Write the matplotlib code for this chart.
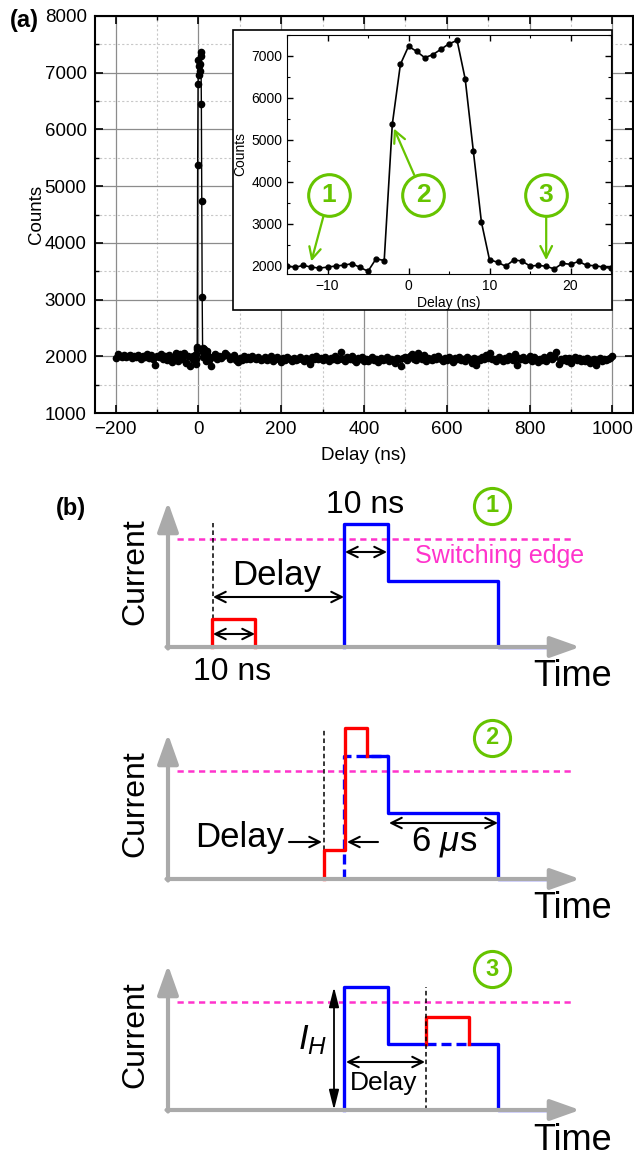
import numpy as np
import matplotlib.pyplot as plt
from matplotlib.patches import Rectangle
from matplotlib.ticker import MultipleLocator

plt.rcParams['font.family'] = 'Liberation Sans'
plt.rcParams['mathtext.fontset'] = 'custom'
plt.rcParams['mathtext.rm'] = 'Liberation Sans'
plt.rcParams['mathtext.it'] = 'Liberation Sans:italic'

# DATA

# inset: 1 ns steps around the peak
inset_delay = np.arange(-15, 26)
inset_counts = [1990, 1960, 2005, 1965, 1940, 1965, 1990, 2010, 2045, 1960, 1865,
                2165, 2120, 5370, 6800,
                7230, 7110, 6960, 7030, 7160, 7290, 7370, 6450, 4740, 3040,
                2140, 2080, 1985, 2135, 2110, 1990, 2005, 1985, 1920, 2055, 2030,
                2100, 2005, 2000, 1965, 1935]

# long scan baseline, 5 ns steps (-200..-20 and 30..1000)
base_left = [1970, 2045, 2010, 1990, 2025, 1985, 2005, 2030, 1970, 2010,
             1990, 2030, 1960, 2005, 1985, 2040, 1975, 2015, 1945, 1855,
             2010, 1980, 2040, 1955, 2000, 1930, 2030, 1900, 1985, 2050,
             1920, 2040, 1960, 2060, 1880, 2000, 1820]
base_right = [1830, 1990, 2040, 1950, 2010, 1970, 2000, 2060, 2030, 1960,
              1985, 2020, 1940, 1900, 1970, 1930, 2000, 1960, 1980, 1950,
              2010, 1975, 1950, 1995, 1930, 1960, 1985, 1940, 1970, 2000,
              1920, 1955, 1980, 1945, 1900, 1965, 1940, 1990, 1950, 1920,
              1975, 1930, 1960, 1985, 1950, 1910, 1970, 1940, 1860, 1995,
              1960, 2010, 1945, 1970, 1930, 1990, 1960, 1920, 1975, 1945,
              2000, 1935, 1960, 2070, 1950, 1920, 1985, 1960, 2010, 1940,
              1900, 1970, 1945, 1990, 1925, 1960, 1915, 1950, 1980, 1940,
              1960, 1905, 1975, 1930, 1960, 1995, 1920, 1950, 1935, 1890,
              1970, 1945, 1830, 1965, 1980, 1940, 2010, 2040, 1955, 1930,
              2060, 1990, 1950, 2030, 1920, 1975, 1960, 1930, 1985, 1945,
              2000, 1960, 1915, 1970, 1940, 1985, 1950, 1900, 1965, 1945,
              1985, 1930, 1960, 1920, 1995, 1950, 1880, 1975, 1840, 1960,
              1930, 1990, 1950, 2020, 1970, 2050, 1945, 1960, 1925, 1990,
              1950, 1920, 1975, 1940, 2000, 1960, 1930, 2040, 1850, 1970,
              1945, 1990, 1935, 1960, 2010, 1925, 1980, 1950, 1900, 1960,
              1940, 1985, 1920, 1970, 2020, 1950, 1990, 2070, 1860, 1960,
              1935, 1975, 1920, 1965, 1890, 1950, 1980, 1930, 1965, 1910,
              1950, 1920, 1975, 1880, 1940, 1960, 1845, 1930, 1970, 1910,
              1950, 1935, 1960, 1975, 2000]

delay_main = np.concatenate([np.arange(-200, -15, 5), inset_delay, np.arange(30, 1001, 5)])
counts_main = np.concatenate([base_left, inset_counts, base_right])

# inset markers: (circle x, circle y, arrow tip x, arrow tip y)
marks = {'1': (-9.8, 3680, -12, 2100),
         '2': (1.8, 3680, -1.8, 5270),
         '3': (17.0, 3680, 17, 2130)}

# schematic waveforms (time, current) in drawing units
blue_t = [344, 344, 388, 388, 498, 498, 549]
blue_i = [0, 123, 123, 66, 66, 0, 0]
red1_t = [212, 212, 255, 255]
red1_i = [0, 28, 28, 0]
red2_t = [324, 324, 345, 345, 367, 367]
red2_i = [0, 29, 29, 151, 151, 123]
red3_t = [426, 426, 469, 469]
red3_i = [66, 93, 93, 66]
switch_level = 108

W, H = 634, 1159
green = '#66c400'
magenta = '#ff33cc'


def px_rect(x0, y0, x1, y1):
    return [x0 / W, 1 - y1 / H, (x1 - x0) / W, (y1 - y0) / H]


fig = plt.figure(figsize=(W / 100, H / 100), dpi=100)

# PANEL (a)

ax = fig.add_axes(px_rect(95, 16, 633, 413))
ax.plot(delay_main, counts_main, '-o', color='k', lw=1, ms=4.5)
ax.set_xlim(-250, 1050)
ax.set_ylim(1000, 8000)
ax.xaxis.set_major_locator(MultipleLocator(200))
ax.xaxis.set_minor_locator(MultipleLocator(100))
ax.yaxis.set_major_locator(MultipleLocator(1000))
ax.yaxis.set_minor_locator(MultipleLocator(500))
ax.grid(which='major', color='#8c8c8c', lw=0.9)
ax.grid(which='minor', color='#c8c8c8', ls=(0, (2, 2)), lw=0.8)
ax.tick_params(which='both', direction='in', top=True, right=True, labelsize=13.5)
ax.tick_params(which='major', length=6, width=1.2, pad=6)
ax.tick_params(which='minor', length=3, width=1.0)
for s in ax.spines.values():
    s.set_linewidth(1.5)
ax.set_xlabel('Delay (ns)', fontsize=13.5, labelpad=6)
ax.set_ylabel('Counts', fontsize=13.5, labelpad=0)
fig.text(24 / W, 1 - 20 / H, '(a)', fontsize=17, fontweight='bold', ha='center', va='center')

frame = Rectangle((233 / W, 1 - 310 / H), (612 - 233) / W, (310 - 30) / H,
                  transform=fig.transFigure, fc='white', ec='k', lw=1.2, zorder=5)
fig.add_artist(frame)

axin = fig.add_axes(px_rect(287, 35, 611, 274))
axin.set_zorder(6)
axin.plot(inset_delay, inset_counts, '-o', color='k', lw=1.2, ms=3.5)
axin.set_xlim(-15, 25)
axin.set_ylim(1800, 7500)
axin.xaxis.set_major_locator(MultipleLocator(10))
axin.xaxis.set_minor_locator(MultipleLocator(5))
axin.yaxis.set_major_locator(MultipleLocator(1000))
axin.yaxis.set_minor_locator(MultipleLocator(500))
axin.tick_params(which='both', direction='in', top=True, right=True, labelsize=10)
axin.tick_params(which='major', length=4, width=1)
axin.tick_params(which='minor', length=2, width=0.8)
axin.set_xlabel('Delay (ns)', fontsize=10, labelpad=2)
axin.set_ylabel('Counts', fontsize=10, labelpad=3)

for lab, (cx, cy, tx, ty) in marks.items():
    axin.annotate('', xy=(tx, ty), xytext=(cx, cy),
                  arrowprops=dict(arrowstyle='->,head_length=0.6,head_width=0.3',
                                  color=green, lw=1.6, shrinkA=16, shrinkB=0,
                                  mutation_scale=14))
    axin.plot(cx, cy, 'o', ms=30, mfc='white', mec=green, mew=2.2, zorder=5)
    axin.text(cx, cy, lab, ha='center', va='center', fontsize=19,
              fontweight='bold', color=green, zorder=6)

# PANEL (b)

fig.text(71 / W, 1 - 508 / H, '(b)', fontsize=17, fontweight='bold', ha='center', va='center')

dbl = dict(arrowstyle='<->,head_length=0.5,head_width=0.25', color='k', lw=1.5,
           mutation_scale=15, shrinkA=0, shrinkB=0)
one = dict(arrowstyle='->,head_length=0.5,head_width=0.25', color='k', lw=1.5,
           mutation_scale=15, shrinkA=0, shrinkB=0)


def schematic(yb, num):
    a = fig.add_axes(px_rect(0, yb - 190, W, yb + 50))
    a.set_xlim(0, W)
    a.set_ylim(-50, 190)
    a.axis('off')
    a.patch.set_alpha(0)
    gray = dict(arrowstyle='-|>,head_length=0.9,head_width=0.32', color='#aaaaaa',
                lw=3, mutation_scale=20, shrinkA=0, shrinkB=0)
    a.annotate('', xy=(168, 145), xytext=(168, -1.5), arrowprops=gray)
    a.annotate('', xy=(580, 0), xytext=(166.5, 0), arrowprops=gray)
    a.plot([177, 571], [switch_level, switch_level], color=magenta, lw=1.8,
           ls=(0, (2.5, 1.8)))
    a.text(135, 75, 'Current', rotation=90, fontsize=23, ha='center', va='center')
    a.text(573, -30, 'Time', fontsize=26, ha='center', va='center')
    a.plot(492, 141, 'o', ms=26, mfc='white', mec=green, mew=2.2)
    a.text(492, 141, num, fontsize=17, fontweight='bold', color=green,
           ha='center', va='center')
    return a


bw = 2.4
b1 = schematic(647, '1')
b1.plot([213, 213], [28, 124], color='k', lw=1.1, ls=(0, (3, 2)))
b1.plot(blue_t, blue_i, color='#0000ff', lw=bw)
b1.plot(red1_t, red1_i, color='#ff0000', lw=bw)
b1.annotate('', xy=(255, 13), xytext=(213, 13), arrowprops=dbl)
b1.annotate('', xy=(344, 50), xytext=(213, 50), arrowprops=dbl)
b1.annotate('', xy=(387, 95), xytext=(345, 95), arrowprops=dbl)
b1.text(232, -25, '10 ns', fontsize=23, ha='center', va='center')
b1.text(365, 142, '10 ns', fontsize=23, ha='center', va='center')
b1.text(277, 72, 'Delay', fontsize=25, ha='center', va='center')
b1.text(500, 91, 'Switching edge', fontsize=18, color=magenta, ha='center', va='center')

b2 = schematic(879, '2')
b2.plot([324, 324], [29, 151], color='k', lw=1.1, ls=(0, (3, 2)))
b2.plot(blue_t[:3], blue_i[:3], color='#0000ff', lw=bw, ls=(0, (3, 1.5)))
b2.plot([367] + blue_t[2:], [123] + blue_i[2:], color='#0000ff', lw=bw)
b2.plot(red2_t, red2_i, color='#ff0000', lw=bw)
b2.annotate('', xy=(322, 37), xytext=(289, 37), arrowprops=one)
b2.annotate('', xy=(347, 37), xytext=(378, 37), arrowprops=one)
b2.annotate('', xy=(498, 56), xytext=(389, 56), arrowprops=dbl)
b2.text(240, 42, 'Delay', fontsize=25, ha='center', va='center')
b2.text(444, 37, r'6 $\mu$s', fontsize=25, ha='center', va='center')

b3 = schematic(1110, '3')
b3.plot(blue_t[:4] + [426], blue_i[:4] + [66], color='#0000ff', lw=bw)
b3.plot([426, 469], [66, 66], color='#0000ff', lw=bw, ls=(0, (3, 1.5)))
b3.plot([469] + blue_t[4:], [66] + blue_i[4:], color='#0000ff', lw=bw)
b3.plot(red3_t, red3_i, color='#ff0000', lw=bw)
b3.plot([426, 426], [0, 123], color='k', lw=1.1, ls=(0, (3, 2)))
b3.annotate('', xy=(334, 123), xytext=(334, 0),
            arrowprops=dict(arrowstyle='<|-|>,head_length=0.8,head_width=0.2',
                            color='k', lw=1.3, mutation_scale=15, shrinkA=0, shrinkB=0))
b3.annotate('', xy=(425, 48), xytext=(346, 48), arrowprops=dbl)
b3.text(313, 70, r'$I_H$', fontsize=25, ha='center', va='center')
b3.text(384, 27, 'Delay', fontsize=19, ha='center', va='center')

fig.savefig('out.png', dpi=100)
